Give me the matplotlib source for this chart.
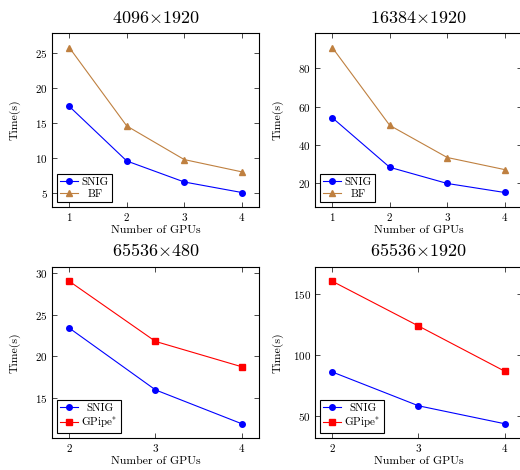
import matplotlib
matplotlib.use("Agg")
import matplotlib.pyplot as plt

plt.rcParams['font.family'] = 'serif'
plt.rcParams['font.serif'] = ['cmr10', 'DejaVu Serif']
plt.rcParams['mathtext.fontset'] = 'cm'
plt.rcParams['axes.formatter.use_mathtext'] = True

# timings (seconds) per number of GPUs
gpus_a = [1, 2, 3, 4]
snig_4096 = [17.4, 9.6, 6.6, 5.1]
bf_4096 = [25.8, 14.6, 9.8, 8.05]
snig_16384 = [54.2, 28.4, 20.0, 15.3]
bf_16384 = [90.7, 50.2, 33.5, 27.2]

gpus_b = [2, 3, 4]
snig_65536_480 = [23.4, 16.0, 11.95]
gpipe_65536_480 = [29.0, 21.8, 18.77]
snig_65536_1920 = [86.1, 58.2, 43.4]
gpipe_65536_1920 = [160.9, 124.0, 86.7]

titles = [r'4096$\times$1920', r'16384$\times$1920',
          r'65536$\times$480', r'65536$\times$1920']
yticks = [[5, 10, 15, 20, 25], [20, 40, 60, 80],
          [15, 20, 25, 30], [50, 100, 150]]

BROWN = (0.75, 0.5, 0.25)

fig = plt.figure(figsize=(5.2, 4.7), dpi=100)
W = 207 / 520
boxes = [(52/520, 1-207/470, W, 174/470),
         (315/520, 1-207/470, W, 174/470),
         (52/520, 1-438/470, W, 171/470),
         (315/520, 1-438/470, W, 171/470)]

panels = [
    (gpus_a, snig_4096, bf_4096, 'BF'),
    (gpus_a, snig_16384, bf_16384, 'BF'),
    (gpus_b, snig_65536_480, gpipe_65536_480, r'GPipe$^{*}$'),
    (gpus_b, snig_65536_1920, gpipe_65536_1920, r'GPipe$^{*}$'),
]

legends = []
for i, (x, snig, other, name) in enumerate(panels):
    ax = fig.add_axes(boxes[i])
    ax.plot(x, snig, color='blue', marker='o', markersize=4, lw=0.8, label='SNIG')
    if name == 'BF':
        ax.plot(x, other, color=BROWN, marker='^', markersize=4, lw=0.8, label=name)
    else:
        ax.plot(x, other, color='red', marker='s', markersize=4, lw=0.8, label=name)
    ax.margins(0.1)
    ax.set_xticks(x)
    ax.set_yticks(yticks[i])
    ax.tick_params(direction='in', top=True, right=True, labelsize=8,
                   length=3.5, width=0.5, colors='black', pad=3)
    for s in ax.spines.values():
        s.set_linewidth(0.8)
    ax.set_title(titles[i], fontsize=13, pad=7.5 if i < 2 else 8)
    ax.set_xlabel('Number of GPUs', fontsize=8.5)
    ax.set_ylabel('Time(s)', fontsize=8.5)
    h = boxes[i][3] * 470
    ax.xaxis.set_label_coords(0.5, -18.5 / h)
    ax.yaxis.set_label_coords(-31 / 207, 0.5)
    leg = ax.legend(loc='lower left', fontsize=8, fancybox=False, framealpha=1,
                    edgecolor='black', handlelength=1.6, borderpad=0.3,
                    labelspacing=0.2, handletextpad=0.3, borderaxespad=0.45)
    leg.get_frame().set_linewidth(0.8)
    legends.append(leg)

# center the legend entries in their column
fig.canvas.draw()
r = fig.canvas.get_renderer()
for leg in legends:
    texts = leg.get_texts()
    widths = [t.get_window_extent(r).width for t in texts]
    for t, w in zip(texts, widths):
        t.set_position(((max(widths) - w) / 2, 0))

fig.savefig('out.png', dpi=100)
